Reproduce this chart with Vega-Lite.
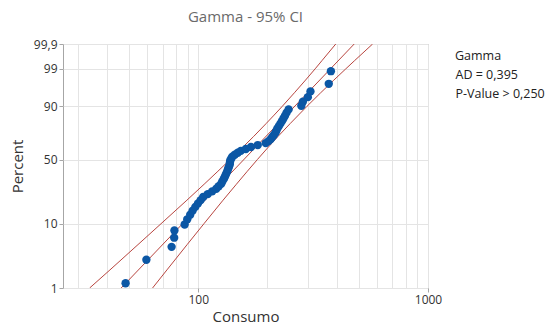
{
  "$schema": "https://vega.github.io/schema/vega-lite/v6.json",
  "width": 365,
  "height": 244,
  "autosize": "none",
  "padding": {"left": 63, "top": 44, "right": 125, "bottom": 39},
  "background": "white",
  "title": {"text": "Gamma - 95% CI", "fontSize": 15, "font": "Open Sans", "fontWeight": "normal", "color": "#6a6a6a", "offset": 13},
  "config": {"view": {"stroke": "#a6a6a6", "strokeWidth": 1}, "font": "Open Sans"},
  "datasets": {
    "pts": [
      {"pct": 1.20, "consumo": 48.3}, {"pct": 2.91, "consumo": 59.5}, {"pct": 4.62, "consumo": 76.6},
      {"pct": 6.34, "consumo": 78.6}, {"pct": 8.05, "consumo": 78.8}, {"pct": 9.76, "consumo": 87.3},
      {"pct": 11.47, "consumo": 89.6}, {"pct": 13.18, "consumo": 92.3}, {"pct": 14.90, "consumo": 94.6},
      {"pct": 16.61, "consumo": 97.2}, {"pct": 18.32, "consumo": 99.8}, {"pct": 20.03, "consumo": 102.5},
      {"pct": 21.75, "consumo": 105.1}, {"pct": 23.46, "consumo": 110}, {"pct": 25.17, "consumo": 115},
      {"pct": 26.88, "consumo": 119.8}, {"pct": 28.60, "consumo": 122.8}, {"pct": 30.31, "consumo": 125.9},
      {"pct": 32.02, "consumo": 127.3}, {"pct": 33.73, "consumo": 129.1}, {"pct": 35.45, "consumo": 130.5},
      {"pct": 37.16, "consumo": 131.8}, {"pct": 38.87, "consumo": 133.1}, {"pct": 40.58, "consumo": 134.2},
      {"pct": 42.29, "consumo": 135.1}, {"pct": 44.01, "consumo": 136.2}, {"pct": 45.72, "consumo": 137.2},
      {"pct": 47.43, "consumo": 137.4}, {"pct": 49.14, "consumo": 137.8}, {"pct": 50.86, "consumo": 139.3},
      {"pct": 52.57, "consumo": 140.7}, {"pct": 54.28, "consumo": 144.2}, {"pct": 55.99, "consumo": 148.6},
      {"pct": 57.71, "consumo": 153.2}, {"pct": 59.42, "consumo": 161.1}, {"pct": 61.13, "consumo": 169.7},
      {"pct": 62.84, "consumo": 181.6}, {"pct": 64.55, "consumo": 196.7}, {"pct": 66.27, "consumo": 202.4},
      {"pct": 67.98, "consumo": 206.9}, {"pct": 69.69, "consumo": 210}, {"pct": 71.40, "consumo": 213.5},
      {"pct": 73.12, "consumo": 216.8}, {"pct": 74.83, "consumo": 218.9}, {"pct": 76.54, "consumo": 221.1},
      {"pct": 78.25, "consumo": 224.5}, {"pct": 79.97, "consumo": 227.8}, {"pct": 81.68, "consumo": 231.4},
      {"pct": 83.39, "consumo": 234.9}, {"pct": 85.10, "consumo": 238.6}, {"pct": 86.82, "consumo": 242.4},
      {"pct": 88.53, "consumo": 247.4}, {"pct": 90.24, "consumo": 281}, {"pct": 91.95, "consumo": 285.4},
      {"pct": 93.66, "consumo": 300}, {"pct": 95.38, "consumo": 308}, {"pct": 97.09, "consumo": 370},
      {"pct": 98.80, "consumo": 378}
    ],
    "fit": [
      {"pct": 1, "consumo": 46.2}, {"pct": 99.9, "consumo": 477.4}
    ],
    "ci": [
      {"bound": "upper", "pct": 1, "consumo": 33.7}, {"bound": "upper", "pct": 2, "consumo": 41.3},
      {"bound": "upper", "pct": 5, "consumo": 54.7}, {"bound": "upper", "pct": 10, "consumo": 68.9},
      {"bound": "upper", "pct": 20, "consumo": 89.3}, {"bound": "upper", "pct": 30, "consumo": 106.1},
      {"bound": "upper", "pct": 50, "consumo": 137.7}, {"bound": "upper", "pct": 70, "consumo": 173.9},
      {"bound": "upper", "pct": 80, "consumo": 197.4}, {"bound": "upper", "pct": 90, "consumo": 232.1},
      {"bound": "upper", "pct": 95, "consumo": 262.2}, {"bound": "upper", "pct": 99, "consumo": 322.8},
      {"bound": "upper", "pct": 99.5, "consumo": 345.9}, {"bound": "upper", "pct": 99.9, "consumo": 396.9},
      {"bound": "lower", "pct": 1, "consumo": 63.3}, {"bound": "lower", "pct": 2, "consumo": 73.1},
      {"bound": "lower", "pct": 5, "consumo": 89.5}, {"bound": "lower", "pct": 10, "consumo": 105.9},
      {"bound": "lower", "pct": 20, "consumo": 128.3}, {"bound": "lower", "pct": 30, "consumo": 146.6},
      {"bound": "lower", "pct": 50, "consumo": 180.9}, {"bound": "lower", "pct": 70, "consumo": 222.0},
      {"bound": "lower", "pct": 80, "consumo": 251.2}, {"bound": "lower", "pct": 90, "consumo": 297.3},
      {"bound": "lower", "pct": 95, "consumo": 341.1}, {"bound": "lower", "pct": 99, "consumo": 438.8},
      {"bound": "lower", "pct": 99.5, "consumo": 479.8}, {"bound": "lower", "pct": 99.9, "consumo": 574.1}
    ],
    "stats": [
      {"stat": "AD = 0,395"}, {"stat": "P-Value > 0,250"}
    ]
  },
  "layer": [
    {
      "data": {"name": "ci"},
      "transform": [{"calculate": "log(0.9798 + quantileNormal(datum.pct/100)/7.0356)/LN10", "as": "score"}],
      "mark": {"type": "line", "color": "#b8453f", "strokeWidth": 1, "interpolate": "monotone", "clip": true},
      "encoding": {
        "x": {"field": "consumo", "type": "quantitative", "scale": {"type": "log", "domain": [25.8, 1000], "nice": false},
          "axis": {"title": "Consumo", "values": [30, 40, 50, 60, 70, 80, 90, 100, 200, 300, 400, 500, 600, 700, 800, 900, 1000],
            "format": "d", "labelExpr": "datum.value == 100 || datum.value == 1000 ? datum.label : ''",
            "tickOpacity": {"condition": {"test": "datum.value == 100 || datum.value == 1000", "value": 1}, "value": 0},
            "grid": true, "gridColor": "#e4e4e4", "domain": false, "tickColor": "#a6a6a6", "tickSize": 4,
            "labelFontSize": 12, "labelColor": "#333", "labelPadding": 2, "labelFlush": false,
            "titleFontSize": 15, "titleFontWeight": "normal", "titleColor": "#333", "titlePadding": 4}},
        "y": {"field": "score", "type": "quantitative", "scale": {"domain": [-0.18766, 0.15199], "nice": false, "zero": false},
          "axis": {"title": "Percent", "values": [-0.18766, -0.09819, -0.008863, 0.06519, 0.11741, 0.15199],
            "labelExpr": "datum.value < -0.15 ? '1' : datum.value < -0.05 ? '10' : datum.value < 0.03 ? '50' : datum.value < 0.09 ? '90' : datum.value < 0.13 ? '99' : '99,9'",
            "grid": true, "gridColor": "#e4e4e4", "domain": false, "tickColor": "#a6a6a6", "tickSize": 4,
            "labelFontSize": 12, "labelColor": "#333", "labelPadding": 2,
            "titleFontSize": 15, "titleFontWeight": "normal", "titleColor": "#333", "titlePadding": 8}},
        "detail": {"field": "bound", "type": "nominal"}
      }
    },
    {
      "data": {"name": "fit"},
      "transform": [{"calculate": "log(0.9798 + quantileNormal(datum.pct/100)/7.0356)/LN10", "as": "score"}],
      "mark": {"type": "line", "color": "#b8453f", "strokeWidth": 1, "clip": true},
      "encoding": {
        "x": {"field": "consumo", "type": "quantitative", "scale": {"type": "log", "domain": [25.8, 1000], "nice": false}, "axis": {"title": "Consumo"}},
        "y": {"field": "score", "type": "quantitative", "scale": {"domain": [-0.18766, 0.15199], "nice": false, "zero": false}, "axis": {"title": "Percent"}}
      }
    },
    {
      "data": {"name": "pts"},
      "transform": [{"calculate": "log(0.9798 + quantileNormal(datum.pct/100)/7.0356)/LN10", "as": "score"}],
      "mark": {"type": "circle", "size": 70, "color": "#0b57a5", "opacity": 1},
      "encoding": {
        "x": {"field": "consumo", "type": "quantitative", "scale": {"type": "log", "domain": [25.8, 1000], "nice": false}, "axis": {"title": "Consumo"}},
        "y": {"field": "score", "type": "quantitative", "scale": {"domain": [-0.18766, 0.15199], "nice": false, "zero": false}, "axis": {"title": "Percent"}}
      }
    },
    {
      "data": {"name": "stats"},
      "mark": {"type": "point", "opacity": 0},
      "encoding": {
        "color": {"field": "stat", "type": "nominal", "scale": {"range": ["#ffffff", "#ffffff"]},
          "legend": {"title": "Gamma", "orient": "right", "offset": 21, "padding": 6,
            "titleFontSize": 12.5, "titleFontWeight": "normal", "titleColor": "#222", "titleFont": "Open Sans", "titlePadding": 6,
            "labelFontSize": 12.5, "labelColor": "#222", "labelFont": "Open Sans", "labelOffset": -12,
            "symbolSize": 0, "symbolOpacity": 0, "symbolStrokeWidth": 0, "rowPadding": 6}}
      }
    }
  ]
}
